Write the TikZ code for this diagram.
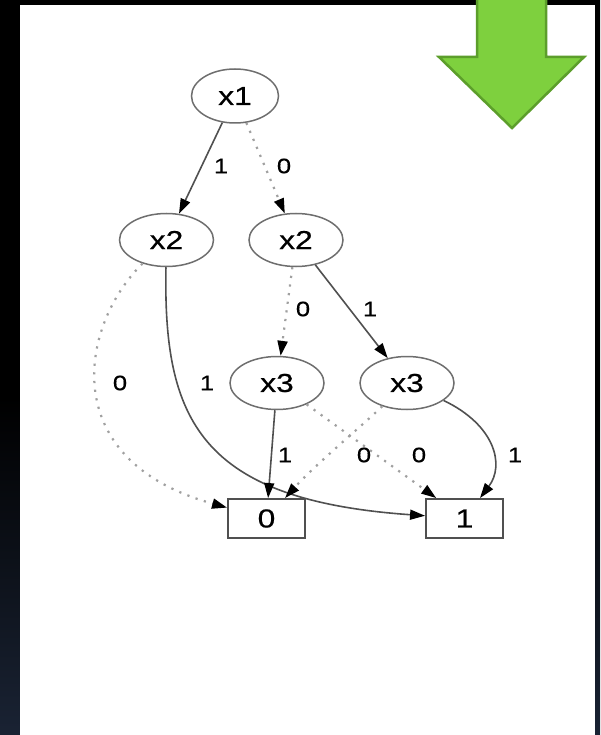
\documentclass[tikz,border=0pt]{standalone}
\usepackage{fontspec}
\setmainfont{Liberation Sans}[FakeStretch=1.22,FakeBold=0.6]
\usetikzlibrary{shapes.geometric,arrows.meta}
\definecolor{bgblue}{HTML}{35486B}
\definecolor{arrowgreen}{HTML}{7ED03E}
\definecolor{arrowedge}{HTML}{5C9E2B}
\definecolor{nodegray}{HTML}{6E6E6E}
\definecolor{solidgray}{HTML}{505050}
\definecolor{dotgray}{HTML}{A0A0A0}
\pgfdeclareverticalshading{bgshade}{100bp}{color(0bp)=(bgblue); color(48bp)=(black); color(100bp)=(black)}
\tikzset{
  bddvar/.style={ellipse, draw=nodegray, line width=1.5pt, minimum width=94pt, minimum height=53pt, inner sep=0pt, font=\fontsize{26}{26}\selectfont},
  bddterm/.style={rectangle, draw=solidgray, line width=1.9pt, minimum width=77pt, minimum height=39pt, inner sep=0pt, font=\fontsize{26}{26}\selectfont},
  lbl/.style={inner sep=0pt, font=\fontsize{21}{21}\selectfont},
  hi/.style={draw=solidgray, line width=1.6pt, -{Triangle[length=15pt,width=10pt,color=black]}},
  lo/.style={draw=dotgray, line width=2.2pt, dash pattern=on 2.2pt off 6.5pt, -{Triangle[length=15pt,width=10pt,color=black]}},
}
\begin{document}
\begin{tikzpicture}[x=1pt,y=-1pt]
\useasboundingbox (0,0) rectangle (600,735);
\shade[shading=bgshade] (0,0) rectangle (600,735);
\fill[white] (20,5) rectangle (595,735);
% green arrow
\draw[fill=arrowgreen, draw=arrowedge, line width=2.5pt, line join=miter]
  (477,-5) -- (546,-5) -- (546,57) -- (584,57) -- (512,128) -- (439,57) -- (477,57) -- cycle;
% nodes
\node[bddvar, minimum width=87pt, minimum height=54pt] (x1) at (235,96) {x1};
\node[bddvar] (x2a) at (166.5,240) {x2};
\node[bddvar] (x2b) at (296,240) {x2};
\node[bddvar] (x3a) at (277,383) {x3};
\node[bddvar] (x3b) at (407,383) {x3};
\node[bddterm] (t0) at (266.5,518.5) {0};
\node[bddterm] (t1) at (464.5,518.5) {1};
% edges
\draw[hi] (x1) -- (x2a);
\draw[lo] (x1) -- (x2b);
\draw[lo] (x2b) -- (x3a);
\draw[hi] (x2b) -- (x3b);
\draw[lo] (x2a) .. controls (80,325) and (55,460) .. (t0);
\draw[hi] (x2a) .. controls (163,420) and (200,500) .. (t1);
\draw[hi] (x3a) -- (t0);
\draw[lo] (x3a) -- (t1);
\draw[lo] (x3b) .. controls (355,432) and (315,465) .. (t0);
\draw[hi] (x3b) .. controls (495,425) and (505,465) .. (t1);
% labels
\node[lbl] (l1) at (221,166) {1};
\node[lbl] (l2) at (284,166) {0};
\node[lbl] (l3) at (303,309) {0};
\node[lbl] (l4) at (370,309) {1};
\node[lbl] (l5) at (120,383) {0};
\node[lbl] (l6) at (207,383) {1};
\node[lbl] (l7) at (285,455) {1};
\node[lbl] (l8) at (364,455) {0};
\node[lbl] (l9) at (419,455) {0};
\node[lbl] (l10) at (515,455) {1};
\end{tikzpicture}
\end{document}
